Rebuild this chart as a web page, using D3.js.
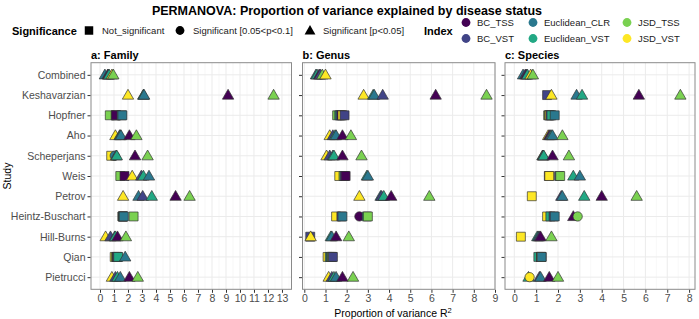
<!DOCTYPE html>
<html lang="en">
<head>
    <meta charset="UTF-8">
    <title>PERMANOVA</title>
    <script src="https://d3js.org/d3.v7.min.js"></script>
    <style>
        body { margin: 0; background: #fff; }
        text { font-family: "Liberation Sans", Arial, sans-serif; }
    </style>
</head>
<body>
<script type="text/javascript">
    var studies = ["Combined", "Keshavarzian", "Hopfner", "Aho", "Scheperjans", "Weis",
        "Petrov", "Heintz-Buschart", "Hill-Burns", "Qian", "Pietrucci"];
    var indices = ["BC_TSS", "BC_VST", "Euclidean_CLR", "Euclidean_VST", "JSD_TSS", "JSD_VST"];
    var indexColors = ["#440154", "#414487", "#2A788E", "#22A884", "#7AD151", "#FDE725"];
    var sigLevels = ["Not_significant", "Significant [0.05<p<0.1]", "Significant [p<0.05]"];
    var panelTitles = ["a: Family", "b: Genus", "c: Species"];

    // R2 (%) per study, columns follow indices
    var familyR2 = [
        [0.6, 0.55, 0.35, 0.65, 0.95, 0.85],
        [9.15, 3.1, 3.15, 3.1, 12.4, 2.0],
        [1.15, 1.14, 1.6, 1.55, 0.7, 1.12],
        [2.1, 1.4, 1.5, 1.45, 2.6, 1.1],
        [2.5, 1.15, 1.05, 1.2, 3.4, 0.8],
        [1.75, 2.95, 3.5, 3.1, 1.45, 2.3],
        [5.4, 3.05, 2.75, 3.7, 6.4, 1.65],
        [1.64, 1.62, 1.7, 1.66, 2.4, 1.6],
        [1.25, 0.75, 1.05, 1.1, 1.85, 0.4],
        [1.2, 1.25, 1.8, 1.3, 1.15, 1.05],
        [2.1, 1.1, 1.45, 1.25, 2.7, 0.85]
    ];
    var genusR2 = [
        [0.7, 0.75, 0.55, 0.6, 0.85, 1.0],
        [6.2, 3.7, 3.3, 3.25, 8.6, 2.8],
        [1.75, 1.9, 1.7, 1.65, 1.55, 1.8],
        [1.8, 1.35, 1.5, 1.45, 2.2, 1.2],
        [1.8, 1.2, 1.35, 1.4, 2.7, 1.05],
        [1.95, 1.9, 3.0, 2.95, 1.85, 1.65],
        [4.1, 3.65, 3.6, 3.75, 5.9, 2.6],
        [2.6, 1.75, 1.8, 2.95, 3.0, 1.5],
        [1.5, 0.28, 1.3, 1.25, 2.1, 0.3],
        [1.3, 1.35, 1.25, 1.2, 1.3, 1.1],
        [1.8, 1.3, 1.5, 1.4, 2.3, 1.15]
    ];
    var speciesR2 = [
        [0.55, 0.5, 0.4, 0.6, 0.85, 0.75],
        [5.7, 1.5, 2.85, 3.1, 7.6, 1.7],
        [1.6, 1.65, 1.85, 1.7, 1.55, 1.6],
        [1.6, 1.65, 1.75, 1.7, 2.2, 1.55],
        [1.75, 1.33, 1.3, 1.35, 2.5, 1.29],
        [1.58, 2.05, 3.0, 2.7, 2.1, 1.6],
        [4.0, 2.15, 2.2, 3.2, 5.6, 0.8],
        [2.7, 1.8, 1.85, 1.65, 2.9, 1.5],
        [1.2, 1.15, 1.1, 1.05, 1.7, 0.3],
        [1.22, 1.23, 1.25, 1.1, 1.24, 1.24],
        [1.6, 1.15, 1.2, 0.65, 2.0, 0.7]
    ];
    // N = not significant, M = 0.05<p<0.1, S = p<0.05
    var familySig = ["SSSSSS", "SSSSSS", "NNNNNN", "SSSSSS", "SSMSSN", "NSSSNS",
        "SSSSSS", "NNNNNN", "SSSSSS", "NNSNNN", "SSSSSS"];
    var genusSig = ["SSSSSS", "SSSSSS", "NNNNNN", "SSSSSS", "SSSSSS", "NNSSNN",
        "SSSSSS", "MNNNNN", "SNSSSS", "NNNNNN", "SSSSSS"];
    var speciesSig = ["SSSSSS", "SNSSSS", "NNNNNN", "SSSSSS", "SSSSSS", "NNSSNN",
        "SSSSSN", "SNNNMN", "SSSSSN", "NNNNNN", "SSSSSM"];

    var svgWidth = 699, svgHeight = 319;
    var panelTop = 62.7, panelBottom = 289.3;
    var panels = [
        {title: panelTitles[0], r2: familyR2, sig: familySig, x0: 91, x1: 291.5, domain: [-0.643, 13.68], maxTick: 13},
        {title: panelTitles[1], r2: genusR2, sig: genusSig, x0: 302.5, x1: 495, domain: [-0.085, 9.0], maxTick: 9},
        {title: panelTitles[2], r2: speciesR2, sig: speciesSig, x0: 505, x1: 695, domain: [-0.426, 8.27], maxTick: 8}
    ];

    var shapeOf = {N: d3.symbolSquare, M: d3.symbolCircle, S: d3.symbolTriangle};
    var sizeOf = {N: 80, M: 68, S: 56};
    var colorScale = d3.scaleOrdinal().domain(indices).range(indexColors);

    var yScale = d3.scalePoint()
        .domain(studies)
        .range([panelTop, panelBottom])
        .padding(0.6);

    var svg = d3.select("body").append("svg")
        .attr("width", svgWidth)
        .attr("height", svgHeight);

    svg.append("text")
        .attr("x", 347)
        .attr("y", 15)
        .attr("text-anchor", "middle")
        .attr("font-size", "12.5px")
        .attr("font-weight", "bold")
        .attr("fill", "#000")
        .text("PERMANOVA: Proportion of variance explained by disease status");

    // legends
    var leg = svg.append("g").attr("class", "legend");
    var legY = 30.5;
    leg.append("text").attr("x", 12).attr("y", legY + 4)
        .attr("font-size", "11px").attr("font-weight", "bold").text("Significance");
    var sigKeys = [{code: "N", x: 89}, {code: "M", x: 180}, {code: "S", x: 310}];
    sigKeys.forEach(function (k, i) {
        leg.append("path")
            .attr("d", d3.symbol().type(shapeOf[k.code]).size(sizeOf[k.code] * 0.9)())
            .attr("transform", "translate(" + k.x + "," + (k.code === "S" ? legY + 0.8 : legY) + ")")
            .attr("fill", "#000");
        leg.append("text").attr("x", k.x + 13).attr("y", legY + 3.5)
            .attr("font-size", "9.5px").attr("fill", "#1a1a1a").text(sigLevels[i]);
    });
    leg.append("text").attr("x", 424).attr("y", legY + 4)
        .attr("font-size", "11px").attr("font-weight", "bold").text("Index");
    var colX = [466, 533, 627];
    indices.forEach(function (name, i) {
        var cx = colX[Math.floor(i / 2)];
        var cy = i % 2 === 0 ? 22.5 : 38.5;
        leg.append("circle").attr("cx", cx).attr("cy", cy).attr("r", 4.4)
            .attr("fill", colorScale(name));
        leg.append("text").attr("x", cx + 11).attr("y", cy + 3.5)
            .attr("font-size", "9.5px").attr("fill", "#1a1a1a").text(name);
    });

    panels.forEach(function (p, pi) {
        var xScale = d3.scaleLinear().domain(p.domain).range([p.x0, p.x1]);
        var g = svg.append("g").attr("class", "panel");

        // grid
        var minor = d3.range(0.5, p.domain[1], 1).filter(function (v) { return v > p.domain[0]; });
        g.selectAll(".minor").data(minor).enter().append("line")
            .attr("x1", function (d) { return xScale(d); })
            .attr("x2", function (d) { return xScale(d); })
            .attr("y1", panelTop).attr("y2", panelBottom)
            .attr("stroke", "#f4f4f4").attr("stroke-width", 0.6);
        g.selectAll(".major").data(d3.range(0, p.maxTick + 1)).enter().append("line")
            .attr("x1", function (d) { return xScale(d); })
            .attr("x2", function (d) { return xScale(d); })
            .attr("y1", panelTop).attr("y2", panelBottom)
            .attr("stroke", "#ebebeb").attr("stroke-width", 1);
        g.selectAll(".hgrid").data(studies).enter().append("line")
            .attr("x1", p.x0).attr("x2", p.x1)
            .attr("y1", function (d) { return yScale(d); })
            .attr("y2", function (d) { return yScale(d); })
            .attr("stroke", "#ebebeb").attr("stroke-width", 1);

        // points, smaller values drawn first
        var pts = [];
        studies.forEach(function (s, si) {
            indices.forEach(function (idx, ii) {
                pts.push({study: s, index: idx, v: p.r2[si][ii], sig: p.sig[si][ii], order: ii});
            });
        });
        pts.sort(function (a, b) { return a.v - b.v || a.order - b.order; });
        g.selectAll(".pt").data(pts).enter().append("path")
            .attr("d", function (d) { return d3.symbol().type(shapeOf[d.sig]).size(sizeOf[d.sig])(); })
            .attr("transform", function (d) {
                return "translate(" + xScale(d.v) + "," + (yScale(d.study) + (d.sig === "S" ? 0.8 : 0)) + ")";
            })
            .attr("fill", function (d) { return colorScale(d.index); })
            .attr("stroke", "#333")
            .attr("stroke-width", 0.7);

        g.append("rect")
            .attr("x", p.x0).attr("y", panelTop)
            .attr("width", p.x1 - p.x0).attr("height", panelBottom - panelTop)
            .attr("fill", "none").attr("stroke", "#8a8a8a").attr("stroke-width", 1);

        var xAxis = d3.axisBottom(xScale)
            .tickValues(d3.range(0, p.maxTick + 1))
            .tickSize(3).tickPadding(2)
            .tickFormat(d3.format("d"));
        var xg = svg.append("g")
            .attr("class", "x axis")
            .attr("transform", "translate(0," + (panelBottom + 0.5) + ")")
            .call(xAxis);
        var yAxis = d3.axisLeft(yScale).tickSize(3).tickPadding(2);
        if (pi > 0) yAxis.tickFormat("");
        var yg = svg.append("g")
            .attr("class", "y axis")
            .attr("transform", "translate(" + (p.x0 - 0.5) + ",0)")
            .call(yAxis);
        [xg, yg].forEach(function (ax) {
            ax.select(".domain").remove();
            ax.selectAll(".tick line").attr("stroke", "#333");
            ax.selectAll("text").attr("fill", "#4d4d4d").attr("font-size", "10.5px")
                .attr("font-family", "Liberation Sans, Arial, sans-serif");
        });

        svg.append("text")
            .attr("x", p.x0)
            .attr("y", 58.5)
            .attr("font-size", "11px")
            .attr("font-weight", "bold")
            .text(p.title);
    });

    var xt = svg.append("text")
        .attr("x", 393)
        .attr("y", 317)
        .attr("text-anchor", "middle")
        .attr("font-size", "10.5px");
    xt.append("tspan").text("Proportion of variance R");
    xt.append("tspan").attr("dy", -4).attr("font-size", "7.5px").text("2");

    svg.append("text")
        .attr("transform", "translate(11," + ((panelTop + panelBottom) / 2) + ") rotate(-90)")
        .attr("text-anchor", "middle")
        .attr("font-size", "10.5px")
        .text("Study");
</script>
</body>
</html>
